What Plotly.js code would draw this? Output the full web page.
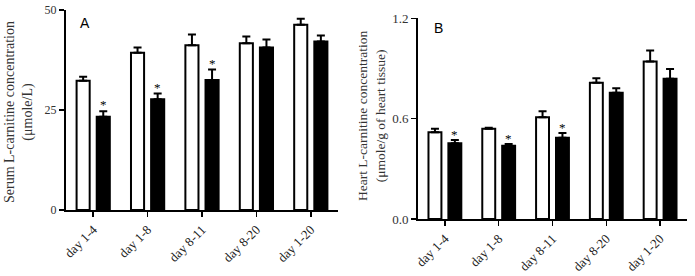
<!DOCTYPE html>
<html>
<head>
<meta charset="utf-8">
<script src="https://cdn.plot.ly/plotly-3.0.1.min.js"></script>
<style>html,body{margin:0;padding:0;background:#fff;}#chart{width:695px;height:276px;}</style>
</head>
<body>
<div id="chart"></div>
<script>
// ---- data ----
const categories = ['day 1-4', 'day 1-8', 'day 8-11', 'day 8-20', 'day 1-20'];
const serumControl = [32.3, 39.3, 41.2, 41.7, 46.3];
const serumControlSem = [1.0, 1.3, 2.7, 1.7, 1.5];
const serumTreated = [23.3, 27.7, 32.5, 40.6, 42.1];
const serumTreatedSem = [1.4, 1.4, 2.6, 2.0, 1.5];
const heartControl = [0.518, 0.540, 0.608, 0.815, 0.941];
const heartControlSem = [0.022, 0.006, 0.036, 0.026, 0.066];
const heartTreated = [0.453, 0.438, 0.486, 0.755, 0.839];
const heartTreatedSem = [0.019, 0.011, 0.028, 0.027, 0.058];
const significant = [true, true, true, false, false];
const serumTicks = [0, 25, 50];
const heartTicks = [0, 0.6, 1.2];
const heartTickText = ['0.0', '0.6', '1.2'];

const serif = 'Liberation Serif, Times New Roman, serif';
const sans = 'Liberation Sans, Arial, sans-serif';

function barTrace(y, sem, fill, xa, ya) {
  return {
    type: 'bar', x: categories, y: y, xaxis: xa, yaxis: ya,
    marker: {color: fill, line: {color: '#000', width: 2}},
    error_y: {type: 'data', symmetric: false, array: sem, arrayminus: sem.map(() => 0),
              color: '#000', thickness: 2, width: 4},
    hoverinfo: 'none', showlegend: false
  };
}

const data = [
  barTrace(serumControl, serumControlSem, '#fff', 'x', 'y'),
  barTrace(serumTreated, serumTreatedSem, '#000', 'x', 'y'),
  barTrace(heartControl, heartControlSem, '#fff', 'x2', 'y2'),
  barTrace(heartTreated, heartTreatedSem, '#000', 'x2', 'y2')
];

const annotations = [];
categories.forEach((c, i) => {
  if (!significant[i]) return;
  annotations.push({x: c, y: serumTreated[i] + serumTreatedSem[i], xref: 'x', yref: 'y',
    text: '*', showarrow: false, xshift: 10, yanchor: 'bottom', yshift: -3,
    font: {family: serif, size: 13, color: '#000'}});
  annotations.push({x: c, y: heartTreated[i] + heartTreatedSem[i], xref: 'x2', yref: 'y2',
    text: '*', showarrow: false, xshift: 10, yanchor: 'bottom', yshift: -4,
    font: {family: serif, size: 13, color: '#000'}});
});
annotations.push({x: 85/695, y: 1 - 22.7/276, xref: 'paper', yref: 'paper', text: 'A', showarrow: false,
  xanchor: 'center', yanchor: 'middle', font: {family: sans, size: 14, color: '#000'}});
annotations.push({x: 438/695, y: 1 - 28.3/276, xref: 'paper', yref: 'paper', text: 'B', showarrow: false,
  xanchor: 'center', yanchor: 'middle', font: {family: sans, size: 14, color: '#000'}});
annotations.push({x: 19/695, y: 1 - 112/276, xref: 'paper', yref: 'paper',
  text: 'Serum L-carnitine concentration<br>(μmole/L)', showarrow: false, textangle: -90,
  xanchor: 'center', yanchor: 'middle', font: {family: serif, size: 14, color: '#333'}});
annotations.push({x: 371/695, y: 1 - 116/276, xref: 'paper', yref: 'paper',
  text: 'Heart L-carnitine concentration<br>(μmole/g of heart tissue)', showarrow: false, textangle: -90,
  xanchor: 'center', yanchor: 'middle', font: {family: serif, size: 13.5, color: '#333'}});

const xCommon = {type: 'category', range: [-0.5, 4.5], showline: true, linecolor: '#000', linewidth: 2,
  ticks: 'outside', ticklen: 5, tickwidth: 1.5, tickcolor: '#000', tickangle: -45, showgrid: false,
  zeroline: false, fixedrange: true, tickfont: {family: serif, size: 13, color: '#222'}};
const yCommon = {showline: true, linecolor: '#000', linewidth: 2, ticks: 'outside', ticklen: 5,
  tickwidth: 1.5, tickcolor: '#000', showgrid: false, zeroline: false, fixedrange: true,
  tickfont: {family: serif, size: 12, color: '#333'}};

const layout = {
  width: 695, height: 276, margin: {l: 0, r: 0, t: 0, b: 0},
  paper_bgcolor: '#fff', plot_bgcolor: '#fff',
  barmode: 'group', bargap: 0.26, bargroupgap: 0.35,
  showlegend: false,
  xaxis: Object.assign({}, xCommon, {domain: [66/695, 338/695], anchor: 'y'}),
  yaxis: Object.assign({}, yCommon, {domain: [66/276, 266/276], anchor: 'x', range: [0, 50],
    tickvals: serumTicks}),
  xaxis2: Object.assign({}, xCommon, {domain: [418/695, 687/695], anchor: 'y2'}),
  yaxis2: Object.assign({}, yCommon, {domain: [57/276, 257.7/276], anchor: 'x2', range: [0, 1.2],
    tickvals: heartTicks, ticktext: heartTickText, tickfont: {family: serif, size: 13, color: '#333'}}),
  annotations: annotations
};

Plotly.newPlot('chart', data, layout, {displayModeBar: false, staticPlot: true});
</script>
</body>
</html>
